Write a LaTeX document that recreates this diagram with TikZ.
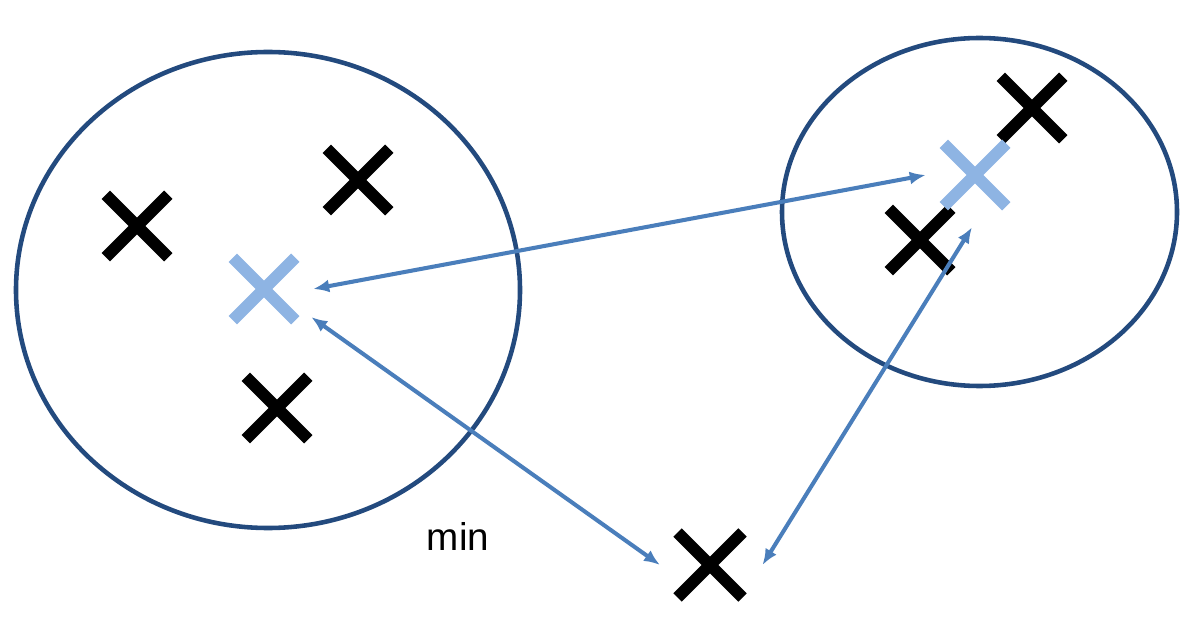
\documentclass[tikz,border=0pt]{standalone}
\usepackage{fontspec}
\setmainfont{Liberation Sans}
\usetikzlibrary{shapes.geometric, shapes.misc, arrows.meta}
\definecolor{clusterblue}{HTML}{234A7E}
\definecolor{arrowblue}{HTML}{4A7EBB}
\definecolor{centreblue}{HTML}{8EB4E3}
\tikzset{
    cluster/.style={draw=clusterblue, line width=2.6pt, ellipse, inner sep=0pt},
    point/.style={cross out, draw=black, line width=6.8pt, minimum size=1.25cm, inner sep=0pt, outer sep=0pt},
    centre/.style={point, draw=centreblue},
    dist/.style={{Latex[length=0.32cm,width=0.26cm]}-{Latex[length=0.32cm,width=0.26cm]}, line width=2.3pt, arrowblue}
}

\begin{document}
\begin{tikzpicture}
        \useasboundingbox (0,0) rectangle (24.04,-12.62);
        \node [cluster, minimum width=10.08cm, minimum height=9.52cm] (left) at (5.36,-5.80) {};
        \node [cluster, minimum width=7.90cm, minimum height=6.96cm] (right) at (19.59,-4.24) {};
        \node [point] (p1) at (2.74,-4.52) {};
        \node [point] (p2) at (7.16,-3.60) {};
        \node [point] (p3) at (5.54,-8.16) {};
        \node [point] (p4) at (20.64,-2.16) {};
        \node [point] (p5) at (18.40,-4.80) {};
        \node [point, minimum size=1.3cm] (new) at (14.20,-11.30) {};
        \node [centre] (m1) at (5.28,-5.78) {};
        \node [centre] (m2) at (19.50,-3.50) {};
        \node [font=\fontsize{22}{26}\selectfont] (min) at (9.16,-10.72) {min};
        \draw [dist] ([xshift=0.36cm]m1.east) -- ([xshift=-0.36cm]m2.west);
        \draw [dist] ([xshift=0.32cm, yshift=-0.2cm]m1.-30) -- ([xshift=-0.35cm]new.west);
        \draw [dist] ([xshift=-0.06cm, yshift=-0.42cm]m2.south) -- ([xshift=0.4cm]new.east);
    \end{tikzpicture}
\end{document}
